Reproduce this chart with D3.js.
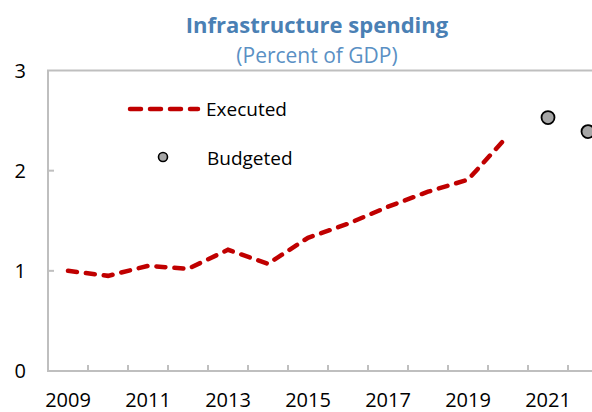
<!DOCTYPE html>
<meta charset="utf-8">
<body>
<script src="https://cdn.jsdelivr.net/npm/d3@7"></script>
<style>
    html, body {
        margin: 0;
        background: #fff;
    }
    text {
        font-family: "Open Sans", sans-serif;
    }
</style>
<script>
var years = [2009, 2010, 2011, 2012, 2013, 2014, 2015, 2016, 2017, 2018, 2019, 2020],
    executed = [1.00, 0.95, 1.05, 1.02, 1.21, 1.07, 1.33, 1.47, 1.64, 1.79, 1.91, 2.35];

var budgetYears = [2021, 2022],
    budgeted = [2.53, 2.39];

var yTicks = [0, 1, 2, 3],
    xLabels = [2009, 2011, 2013, 2015, 2017, 2019, 2021];

var width = 592,
    height = 412;

var svg = d3.select("body").append("svg")
    .attr("width", width)
    .attr("height", height);

var x = d3.scaleLinear().domain([2008.5, 2022.5]).range([48, 608]),
    y = d3.scaleLinear().domain([0, 3]).range([371, 70.5]);

// titles
svg.append("text")
    .attr("x", 317)
    .attr("y", 33)
    .attr("text-anchor", "middle")
    .attr("font-size", 22)
    .attr("font-weight", "bold")
    .attr("fill", "#4a80b4")
    .text("Infrastructure spending");

svg.append("text")
    .attr("x", 317)
    .attr("y", 63)
    .attr("text-anchor", "middle")
    .attr("font-size", 21)
    .attr("fill", "#5a90c4")
    .text("(Percent of GDP)");

// frame
svg.append("path")
    .attr("d", "M" + (width + 20) + "," + y(3) + "H" + x(2008.5) + "V" + y(0) + "H" + (width + 20))
    .attr("fill", "none")
    .attr("stroke", "#bfbfbf")
    .attr("stroke-width", 2);

// y ticks (inward)
svg.selectAll(".ytick")
    .data(yTicks.slice(1, 3))
    .enter().append("line")
    .attr("x1", x(2008.5))
    .attr("x2", x(2008.5) + 6)
    .attr("y1", function(d) { return y(d); })
    .attr("y2", function(d) { return y(d); })
    .attr("stroke", "#bfbfbf")
    .attr("stroke-width", 2);

svg.selectAll(".ylab")
    .data(yTicks)
    .enter().append("text")
    .attr("x", 26)
    .attr("y", function(d) { return y(d); })
    .attr("dy", "0.36em")
    .attr("text-anchor", "end")
    .attr("font-size", 20)
    .attr("fill", "#000")
    .text(function(d) { return d; });

// x ticks at year boundaries (inward)
svg.selectAll(".xtick")
    .data(d3.range(2009.5, 2022.5, 1))
    .enter().append("line")
    .attr("x1", function(d) { return x(d); })
    .attr("x2", function(d) { return x(d); })
    .attr("y1", y(0))
    .attr("y2", y(0) - 6)
    .attr("stroke", "#bfbfbf")
    .attr("stroke-width", 2);

svg.selectAll(".xlab")
    .data(xLabels)
    .enter().append("text")
    .attr("x", function(d) { return x(d); })
    .attr("y", 407)
    .attr("text-anchor", "middle")
    .attr("font-size", 20)
    .attr("fill", "#000")
    .text(function(d) { return d; });

// executed line
var line = d3.line()
    .x(function(d, i) { return x(years[i]); })
    .y(function(d) { return y(d); });

svg.append("path")
    .datum(executed)
    .attr("d", line)
    .attr("fill", "none")
    .attr("stroke", "#c00000")
    .attr("stroke-width", 4.5)
    .attr("stroke-linecap", "round")
    .attr("stroke-dasharray", "9,9");

// budgeted points
svg.selectAll(".pt")
    .data(budgeted)
    .enter().append("circle")
    .attr("cx", function(d, i) { return x(budgetYears[i]); })
    .attr("cy", function(d) { return y(d); })
    .attr("r", 6.5)
    .attr("fill", "#a6a6a6")
    .attr("stroke", "#000")
    .attr("stroke-width", 1.8);

// legend
svg.append("line")
    .attr("x1", 130)
    .attr("x2", 198)
    .attr("y1", 109)
    .attr("y2", 109)
    .attr("stroke", "#c00000")
    .attr("stroke-width", 4.5)
    .attr("stroke-linecap", "round")
    .attr("stroke-dasharray", "11,9");

svg.append("text")
    .attr("x", 206)
    .attr("y", 116)
    .attr("font-size", 19)
    .attr("fill", "#000")
    .text("Executed");

svg.append("circle")
    .attr("cx", 163)
    .attr("cy", 157)
    .attr("r", 4.5)
    .attr("fill", "#a6a6a6")
    .attr("stroke", "#000")
    .attr("stroke-width", 1.6);

svg.append("text")
    .attr("x", 207)
    .attr("y", 165)
    .attr("font-size", 19)
    .attr("fill", "#000")
    .text("Budgeted");
</script>
